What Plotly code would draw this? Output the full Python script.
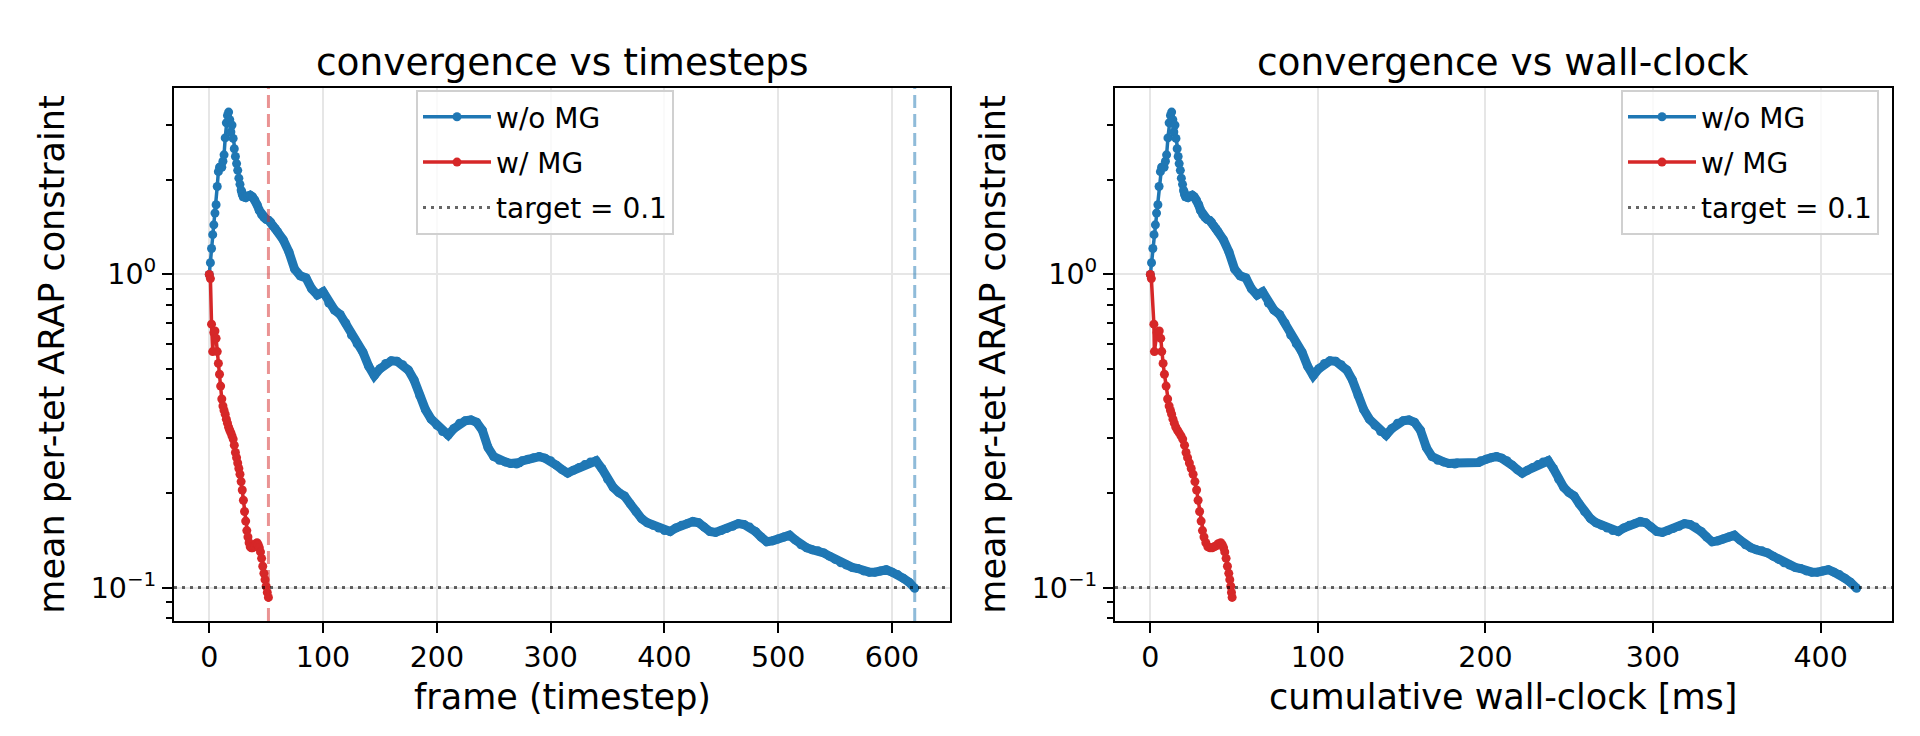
import plotly.graph_objects as go

# ---- data ----
# w/o MG: sampled frames, mean per-tet ARAP constraint, cumulative wall-clock [ms]
frames_no_mg = (list(range(0, 31)) + list(range(32, 61, 2)) + list(range(65, 271, 5))
                + [272, 273] + list(range(275, 621, 5)))
err_no_mg = [
    1.00, 1.09, 1.21, 1.34, 1.44, 1.57, 1.67, 1.91, 2.13, 2.20, 2.21, 2.20, 2.30, 2.41, 2.73, 3.05,
    3.22, 3.30, 3.12, 2.85, 3.00, 2.72, 2.52, 2.38, 2.26, 2.15, 2.03, 1.94, 1.86, 1.80, 1.77,
    1.76, 1.78, 1.79, 1.77, 1.73, 1.67, 1.60, 1.55, 1.52, 1.50, 1.49, 1.47, 1.43, 1.40, 1.37,
    1.29, 1.18, 1.04, 0.99, 0.975, 0.90, 0.86, 0.88, 0.81, 0.77,
    0.745, 0.70, 0.64, 0.60, 0.565, 0.51, 0.475, 0.50, 0.52, 0.53,
    0.528, 0.515, 0.495, 0.46, 0.41, 0.37, 0.345, 0.33, 0.315, 0.307,
    0.322, 0.335, 0.341, 0.343, 0.337, 0.318, 0.28, 0.262, 0.255, 0.252,
    0.249, 0.248,
    0.250, 0.251,
    0.254, 0.257, 0.260, 0.262, 0.259, 0.254, 0.246, 0.238, 0.232, 0.237,
    0.242, 0.247, 0.252, 0.254, 0.240, 0.222, 0.209, 0.201, 0.196, 0.185,
    0.175, 0.166, 0.161, 0.158, 0.155, 0.152, 0.151, 0.155, 0.158, 0.160,
    0.1625, 0.161, 0.156, 0.151, 0.150, 0.152, 0.1545, 0.157, 0.160, 0.159,
    0.156, 0.151, 0.145, 0.140, 0.141, 0.143, 0.145, 0.147, 0.142, 0.137,
    0.134, 0.132, 0.131, 0.129, 0.126, 0.123, 0.120, 0.118, 0.116, 0.115,
    0.113, 0.112, 0.112, 0.113, 0.114, 0.112, 0.110, 0.107, 0.104, 0.0995,
]
ms_no_mg = [
    0.0, 0.7, 1.5, 2.2, 3.0, 3.7, 4.5, 5.2, 6.0, 6.7, 7.5, 8.2, 9.0, 9.7, 10.5, 11.2,
    12.0, 12.7, 13.4, 14.0, 14.7, 15.3, 16.0, 16.6, 17.2, 17.9, 18.5, 19.2, 19.8, 20.4, 21.1,
    22.4, 23.7, 25.0, 26.2, 27.5, 28.8, 30.0, 31.3, 32.6, 33.9, 35.2, 36.5, 37.8, 39.1, 40.4,
    43.6, 46.9, 50.3, 53.6, 57.0, 60.3, 63.7, 67.0, 70.4, 73.7,
    77.1, 80.4, 83.8, 87.1, 90.5, 93.8, 97.2, 100.5, 103.9, 107.2,
    110.6, 113.9, 117.3, 120.6, 124.0, 127.3, 130.7, 134.0, 137.4, 140.7,
    144.1, 147.5, 150.9, 154.3, 157.7, 161.2, 164.7, 168.1, 171.5, 174.9,
    178.3, 181.7,
    183.0, 196.0,
    197.2, 200.4, 203.5, 206.6, 209.7, 212.8, 215.9, 219.0, 222.0, 225.1,
    228.2, 231.3, 234.4, 237.4, 240.5, 243.6, 246.7, 249.8, 252.9, 256.0,
    259.1, 262.7, 266.0, 269.3, 272.6, 275.9, 279.2, 282.5, 285.8, 289.1,
    292.4, 295.7, 299.0, 302.3, 305.6, 308.9, 312.2, 315.5, 318.8, 322.1,
    325.4, 328.7, 332.0, 335.3, 338.6, 341.9, 345.2, 348.5, 351.8, 355.1,
    358.4, 361.7, 365.0, 368.3, 371.6, 374.9, 378.2, 381.5, 384.8, 388.1,
    391.4, 394.7, 398.0, 401.3, 404.6, 407.9, 411.2, 414.5, 417.8, 421.5,
]

# w/ MG: every frame 0..52
frames_mg = list(range(0, 53))
err_mg = [
    1.00, 0.97, 0.694, 0.567, 0.652, 0.66, 0.625, 0.567, 0.52, 0.48,
    0.44, 0.40, 0.38, 0.368, 0.358, 0.345, 0.335, 0.325, 0.318, 0.312,
    0.305, 0.298, 0.285, 0.27, 0.26, 0.25, 0.24, 0.23, 0.218, 0.205,
    0.19, 0.175, 0.163, 0.152, 0.145, 0.139, 0.135, 0.134, 0.134, 0.135,
    0.136, 0.138, 0.139, 0.137, 0.134, 0.13, 0.124, 0.117, 0.111, 0.106,
    0.101, 0.0965, 0.093,
]
ms_mg = [
    0.0, 0.6, 2.1, 2.4, 4.0, 5.3, 6.2, 6.8, 7.6, 8.4,
    9.4, 10.3, 11.2, 12.0, 12.7, 13.5, 14.3, 15.2, 16.2, 17.2,
    18.3, 19.3, 20.4, 21.3, 22.2, 23.3, 24.4, 25.5, 26.6, 27.6,
    28.5, 29.4, 30.3, 31.1, 32.0, 33.1, 34.3, 35.6, 36.9, 38.1,
    39.3, 40.5, 42.0, 42.9, 43.7, 44.4, 45.2, 46.0, 46.8, 47.4,
    48.0, 48.4, 48.8,
]

target = 0.1
hit_frame_no_mg = 620
hit_frame_mg = 52

BLUE = '#1f77b4'
RED = '#d62728'
TARGET_COLOR = 'rgba(0,0,0,0.6)'
FONT = 'DejaVu Sans'

# from frame ~28 on every frame carries a marker in the original, so the
# markers merge into a solid band; a wide underlay line reproduces that band
DENSE_FROM = 28

fig = go.Figure()

for xa, ya, legend, x_no, x_mg, tag in [('x', 'y', 'legend', frames_no_mg, frames_mg, 'a'),
                                        ('x2', 'y2', 'legend2', ms_no_mg, ms_mg, 'b')]:
    fig.add_trace(go.Scatter(
        x=x_no[DENSE_FROM:], y=err_no_mg[DENSE_FROM:], mode='lines',
        line=dict(color=BLUE, width=9), showlegend=False,
        xaxis=xa, yaxis=ya, hoverinfo='skip'))
    fig.add_trace(go.Scatter(
        x=x_no, y=err_no_mg, name='w/o MG', mode='lines+markers',
        line=dict(color=BLUE, width=3.5), marker=dict(color=BLUE, size=9),
        xaxis=xa, yaxis=ya, legend=legend, legendgroup='nomg' + tag, hoverinfo='skip'))
    fig.add_trace(go.Scatter(
        x=x_mg, y=err_mg, name='w/ MG', mode='lines+markers',
        line=dict(color=RED, width=3.5), marker=dict(color=RED, size=9),
        xaxis=xa, yaxis=ya, legend=legend, legendgroup='mg' + tag, hoverinfo='skip'))
    # legend entry for the target line (the line itself is a shape)
    fig.add_trace(go.Scatter(
        x=[None], y=[None], name='target = 0.1', mode='lines',
        line=dict(color=TARGET_COLOR, width=3, dash='3px,5px'),
        xaxis=xa, yaxis=ya, legend=legend, legendgroup='target' + tag))
    fig.add_shape(type='line', xref=xa + ' domain', yref=ya, x0=0, x1=1, y0=target, y1=target,
                  line=dict(color=TARGET_COLOR, width=3, dash='3px,5px'))

# frames where each run reaches the target
fig.add_shape(type='line', xref='x', yref='y domain', x0=hit_frame_mg, x1=hit_frame_mg, y0=0, y1=1,
              line=dict(color='rgba(214,39,40,0.5)', width=3, dash='13px,6px'))
fig.add_shape(type='line', xref='x', yref='y domain', x0=hit_frame_no_mg, x1=hit_frame_no_mg, y0=0, y1=1,
              line=dict(color='rgba(31,119,180,0.5)', width=3, dash='13px,6px'))

axis_common = dict(
    showline=True, linecolor='black', linewidth=2, mirror=True,
    ticks='outside', ticklen=10, tickwidth=2, tickcolor='black',
    tickfont=dict(family=FONT, size=28.5, color='black'),
    showgrid=True, gridcolor='#e6e6e6', gridwidth=2, zeroline=False,
)
y_minor = [0.08, 0.09, 0.2, 0.3, 0.4, 0.5, 0.6, 0.7, 0.8, 0.9, 2, 3]
yaxis_common = dict(
    axis_common, type='log', range=[-1.1068, 0.5955],
    tickvals=[0.1, 1], ticktext=['10<sup>−1</sup>', '10<sup>0</sup>'],
    minor=dict(tickvals=y_minor, ticks='outside', ticklen=6, tickwidth=1.6,
               tickcolor='black', showgrid=False),
    title=dict(text='mean per-tet ARAP constraint', font=dict(family=FONT, size=35, color='black')),
)
legend_common = dict(
    yanchor='top', y=1 - 82 / 736,
    bgcolor='rgba(255,255,255,0.8)', bordercolor='#d0d0d0', borderwidth=2,
    font=dict(family=FONT, size=28, color='black'),
    itemwidth=68, tracegroupgap=6, traceorder='grouped',
)


def text_label(text, x, y, size):
    return dict(text=text, xref='paper', yref='paper', x=x, y=y,
                xanchor='center', yanchor='middle', showarrow=False,
                font=dict(family=FONT, size=size, color='black'))


dom_y = [123 / 736, 656 / 736]
fig.update_layout(
    width=1920, height=736,
    paper_bgcolor='white', plot_bgcolor='white',
    margin=dict(l=0, r=0, t=0, b=0),
    font=dict(family=FONT, color='black'),
    xaxis=dict(axis_common, domain=[166 / 1920, 942 / 1920], range=[-31, 651],
               tickvals=[0, 100, 200, 300, 400, 500, 600], anchor='y'),
    yaxis=dict(yaxis_common, domain=dom_y, anchor='x'),
    xaxis2=dict(axis_common, domain=[1107 / 1920, 1884 / 1920], range=[-21.1, 442.6],
                tickvals=[0, 100, 200, 300, 400], anchor='y2'),
    yaxis2=dict(yaxis_common, domain=dom_y, anchor='x2'),
    legend=dict(legend_common, x=408 / 1920, xanchor='left'),
    legend2=dict(legend_common, x=1871 / 1920, xanchor='right'),
    showlegend=True,
    annotations=[
        text_label('convergence vs timesteps', 554 / 1920, 1 - 54 / 736, 37.5),
        text_label('convergence vs wall-clock', 1495 / 1920, 1 - 54 / 736, 37.5),
        text_label('frame (timestep)', 554 / 1920, 1 - 689 / 736, 35),
        text_label('cumulative wall-clock [ms]', 1495 / 1920, 1 - 689 / 736, 35),
    ],
)

fig.write_html("out.html")
